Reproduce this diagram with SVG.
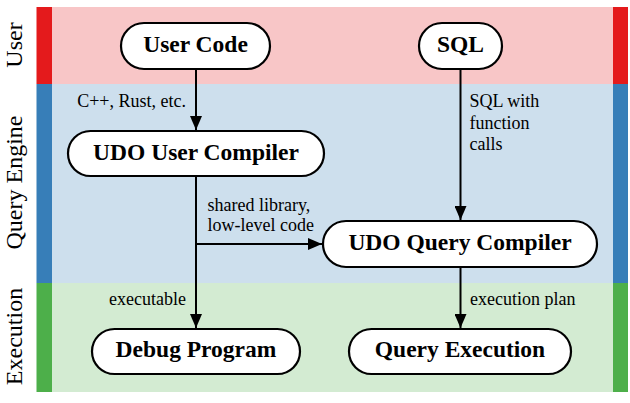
<svg xmlns="http://www.w3.org/2000/svg" width="630" height="403" viewBox="0 0 630 403">
<style>
text{font-family:'Liberation Serif',serif;fill:#000}
.lane{font-size:24px}
.node rect{fill:#fff;stroke:#000;stroke-width:2.2}
.node text{font-size:23.5px;font-weight:bold;text-anchor:middle}
.lbl{font-size:18px}
.edge{stroke:#000;stroke-width:2;fill:none}
</style>
<defs>
<marker id="arr" viewBox="0 0 14 12" refX="14" refY="6" markerWidth="14" markerHeight="12" markerUnits="userSpaceOnUse" orient="auto">
<path d="M0,0 L14,6 L0,12 Z" fill="#000"/>
</marker>
</defs>
<rect width="630" height="403" fill="#fff"/>
<g id="lanes">
<rect x="52" y="7" width="561" height="77" fill="#f8c6c7"/>
<rect x="52" y="84" width="561" height="199" fill="#cddfed"/>
<rect x="52" y="283" width="561" height="109" fill="#d3ebd2"/>
<rect x="36.5" y="7" width="15.5" height="77" fill="#e41a1c"/>
<rect x="36.5" y="84" width="15.5" height="199" fill="#377eb8"/>
<rect x="36.5" y="283" width="15.5" height="109" fill="#4daf4a"/>
<rect x="613" y="7" width="15" height="77" fill="#e41a1c"/>
<rect x="613" y="84" width="15" height="199" fill="#377eb8"/>
<rect x="613" y="283" width="15" height="109" fill="#4daf4a"/>
<text class="lane" text-anchor="middle" transform="translate(22,45) rotate(-90)">User</text>
<text class="lane" text-anchor="middle" transform="translate(22,182.5) rotate(-90)">Query Engine</text>
<text class="lane" text-anchor="middle" transform="translate(22,336.5) rotate(-90)">Execution</text>
</g>
<g id="connectors">
<line class="edge" x1="196" y1="69" x2="196" y2="130" marker-end="url(#arr)"/>
<line class="edge" x1="460.5" y1="69" x2="460.5" y2="220" marker-end="url(#arr)"/>
<line class="edge" x1="196" y1="176" x2="196" y2="328" marker-end="url(#arr)"/>
<line class="edge" x1="196" y1="244" x2="322" y2="244" marker-end="url(#arr)"/>
<line class="edge" x1="460.5" y1="267" x2="460.5" y2="328" marker-end="url(#arr)"/>
<text class="lbl" x="186" y="107" text-anchor="end">C++, Rust, etc.</text>
<text class="lbl" x="469.5" y="107">SQL with</text>
<text class="lbl" x="469.5" y="129">function</text>
<text class="lbl" x="469.5" y="150">calls</text>
<text class="lbl" x="207.5" y="211">shared library,</text>
<text class="lbl" x="207.5" y="231">low-level code</text>
<text class="lbl" x="186" y="305" text-anchor="end">executable</text>
<text class="lbl" x="470" y="305">execution plan</text>
</g>
<g id="user-code" class="node"><rect x="121" y="23" width="149" height="46" rx="23"/><text x="195.5" y="52">User Code</text></g>
<g id="sql" class="node"><rect x="419" y="23" width="83" height="46" rx="23"/><text x="460.5" y="52">SQL</text></g>
<g id="udo-user-compiler" class="node"><rect x="68" y="131" width="256" height="45" rx="22.5"/><text x="196" y="159.5">UDO User Compiler</text></g>
<g id="udo-query-compiler" class="node"><rect x="323" y="221" width="274" height="46" rx="23"/><text x="460" y="250">UDO Query Compiler</text></g>
<g id="debug-program" class="node"><rect x="92" y="329" width="208" height="45" rx="22.5"/><text x="196" y="357">Debug Program</text></g>
<g id="query-execution" class="node"><rect x="349" y="329" width="222" height="45" rx="22.5"/><text x="460" y="357">Query Execution</text></g>
</svg>
